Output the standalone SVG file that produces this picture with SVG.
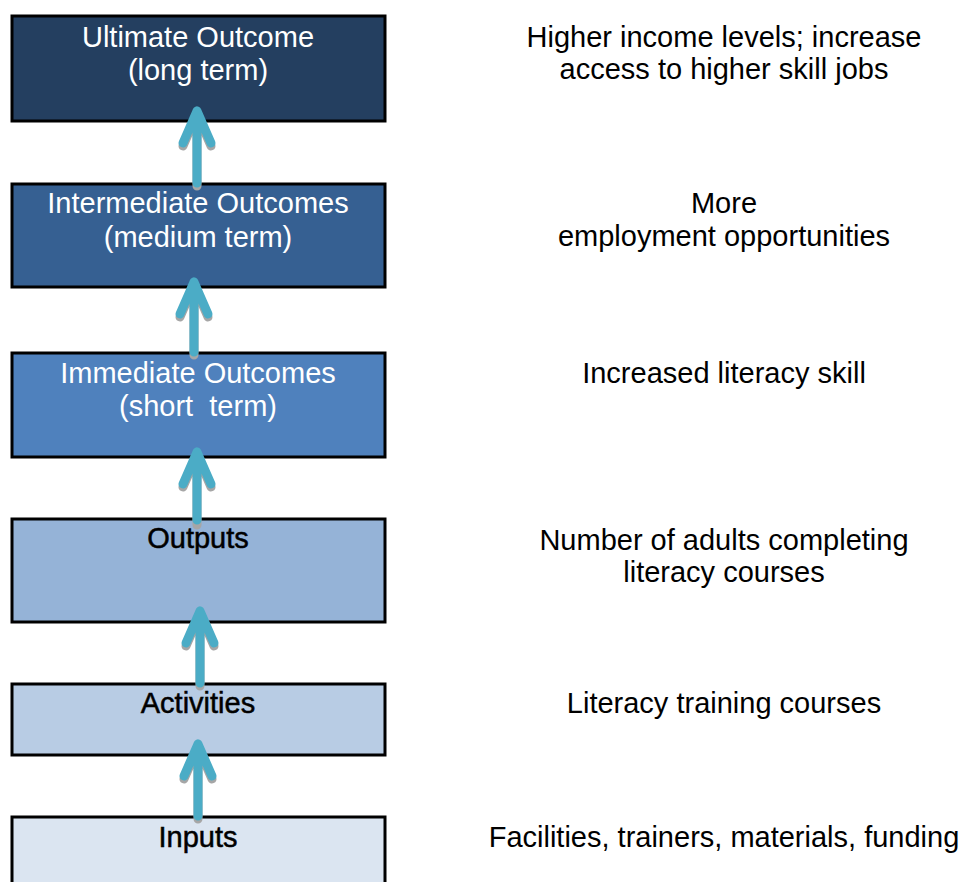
<svg xmlns="http://www.w3.org/2000/svg" width="964" height="882" viewBox="0 0 964 882">
<style>
.box{stroke:#000;stroke-width:3}
.lt{font-family:"Liberation Sans",Arial,sans-serif;font-size:29px;text-anchor:middle}
.w{fill:#fff}
.k{fill:#000;stroke:#000;stroke-width:0.5}
.rt{font-family:"Liberation Sans",Arial,sans-serif;font-size:29px;text-anchor:middle;fill:#000}
.arr{fill:none;stroke:#4BACC6;stroke-width:9;stroke-linecap:round;stroke-linejoin:round}
.sh{fill:none;stroke:#A6A6A6;stroke-width:9;stroke-linecap:round;stroke-linejoin:round}
</style>
<rect width="964" height="882" fill="#fff"/>
<g id="ultimate">
<rect class="box" x="12" y="16" width="373" height="105" fill="#243F60"/>
<text class="lt w" x="198" y="47">Ultimate Outcome</text>
<text class="lt w" x="198" y="80">(long term)</text>
</g>
<g id="intermediate">
<rect class="box" x="12" y="184" width="373" height="103" fill="#366092"/>
<text class="lt w" x="198" y="213">Intermediate Outcomes</text>
<text class="lt w" x="198" y="247">(medium term)</text>
</g>
<g id="immediate">
<rect class="box" x="12" y="353" width="373" height="104" fill="#4F81BD"/>
<text class="lt w" x="198" y="383">Immediate Outcomes</text>
<text class="lt w" x="198" y="416" xml:space="preserve">(short  term)</text>
</g>
<g id="outputs">
<rect class="box" x="12" y="519" width="373" height="103" fill="#95B3D7"/>
<text class="lt k" x="198" y="548">Outputs</text>
</g>
<g id="activities">
<rect class="box" x="12" y="684" width="373" height="71" fill="#B8CCE4"/>
<text class="lt k" x="198" y="713">Activities</text>
</g>
<g id="inputs">
<rect class="box" x="12" y="817" width="373" height="80" fill="#DBE5F1"/>
<text class="lt k" x="198" y="847">Inputs</text>
</g>
<g id="connectors">
<path class="sh" d="M197,186 V114 M183,146 L197,114 L211,146"/>
<path class="arr" d="M197,183 V111 M183,143 L197,111 L211,143"/>
<path class="sh" d="M194,355 V285 M180,317 L194,285 L208,317"/>
<path class="arr" d="M194,352 V282 M180,314 L194,282 L208,314"/>
<path class="sh" d="M197,525 V455 M183,487 L197,455 L211,487"/>
<path class="arr" d="M197,520 V452 M183,484 L197,452 L211,484"/>
<path class="sh" d="M200,686 V614 M186,646 L200,614 L214,646"/>
<path class="arr" d="M200,683 V611 M186,643 L200,611 L214,643"/>
<path class="sh" d="M198,819 V747 M184,779 L198,747 L212,779"/>
<path class="arr" d="M198,816 V744 M184,776 L198,744 L212,776"/>
</g>
<g id="descriptions">
<text class="rt" x="724" y="47">Higher income levels; increase</text>
<text class="rt" x="724" y="79">access to higher skill jobs</text>
<text class="rt" x="724" y="213">More</text>
<text class="rt" x="724" y="246">employment opportunities</text>
<text class="rt" x="724" y="383">Increased literacy skill</text>
<text class="rt" x="724" y="550">Number of adults completing</text>
<text class="rt" x="724" y="582">literacy courses</text>
<text class="rt" x="724" y="713">Literacy training courses</text>
<text class="rt" x="724" y="847">Facilities, trainers, materials, funding</text>
</g>
</svg>
